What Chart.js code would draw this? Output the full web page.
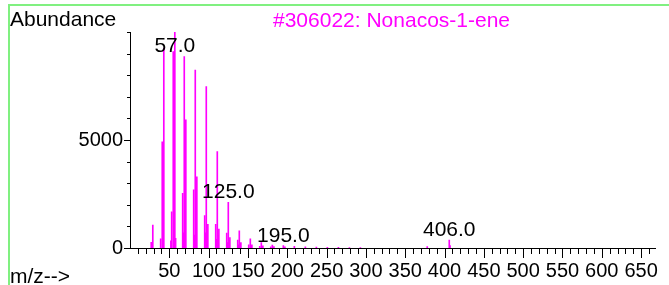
<!DOCTYPE html>
<html>
<head>
<meta charset="utf-8">
<script src="https://cdn.jsdelivr.net/npm/chart.js@4/dist/chart.umd.min.js"></script>
<style>
  html, body { margin: 0; padding: 0; background: #fff; }
  #wrap { position: relative; width: 669px; height: 285px; overflow: hidden; background: #fff; }
  canvas { position: absolute; left: 0; top: 0; }
  .frame { position: absolute; left: 8px; top: 4px; width: 680px; height: 300px;
           border-top: 2px solid #80f080; border-left: 2px solid #80f080; }
  .txt { position: absolute; font-family: 'Liberation Sans', Arial, sans-serif; font-size: 21px;
         line-height: 21px; white-space: nowrap; }
</style>
</head>
<body>
<div id="wrap">
  <canvas id="c" width="669" height="285"></canvas>
  <div class="frame"></div>
  <div class="txt" style="left:10px; top:8px; color:#000;">Abundance</div>
  <div class="txt" style="left:273px; top:9px; color:#ff00ff;">#306022: Nonacos-1-ene</div>
  <div class="txt" style="left:10px; top:265px; color:#000;">m/z--&gt;</div>
</div>
<script>
// m/z values (x) and abundances (y)
const mz = [27, 29, 39, 41, 42, 43, 52, 53, 55, 56, 57, 58,
            67, 68, 69, 70, 71, 81, 82, 83, 84, 85,
            95, 96, 97, 98, 99, 109, 110, 111, 112, 113,
            123, 124, 125, 126, 127, 137, 138, 139, 140, 141,
            151, 153, 154, 155, 165, 167, 168, 169, 179, 181, 183,
            195, 197, 209, 223, 237, 251, 265, 279, 293, 378, 406, 407];
const abundance = [260, 1060, 420, 4920, 1220, 9250, 330, 1680, 9090, 3930, 10000, 450,
            2530, 700, 8860, 1500, 5930, 2690, 600, 8240, 1200, 3300,
            1500, 700, 7470, 800, 1100, 1100, 400, 4460, 600, 880,
            690, 250, 2110, 350, 480, 370, 150, 790, 200, 250,
            150, 420, 100, 150, 80, 250, 60, 100, 50, 140, 60,
            110, 50, 80, 50, 40, 35, 30, 25, 20, 60, 370, 110];
// labelled peaks
const labelledPeaks = [57, 125, 195, 406];
// axis tick labels
const xTickLabels = [50, 100, 150, 200, 250, 300, 350, 400, 450, 500, 550, 600, 650];
const yTickLabels = [0, 5000];
const X_MAX = 668, Y_MAX = 10000;

const points = mz.map((m, i) => ({ x: m, y: abundance[i] }));

const FONT = "'Liberation Sans', Arial, sans-serif";
Chart.defaults.font.family = FONT;

const axisPlugin = {
  id: 'axisPlugin',
  afterDraw(chart) {
    const ctx = chart.ctx;
    const xs = chart.scales.x, ys = chart.scales.y;
    const area = chart.chartArea;
    const y0 = Math.round(ys.getPixelForValue(0));
    const x0 = Math.round(xs.getPixelForValue(0));
    ctx.save();
    ctx.fillStyle = '#000000';
    ctx.strokeStyle = '#000000';
    ctx.lineWidth = 1;
    // axis lines
    ctx.beginPath();
    ctx.moveTo(x0 - 2, y0 + 0.5);
    ctx.lineTo(area.right, y0 + 0.5);
    ctx.stroke();
    ctx.beginPath();
    ctx.moveTo(x0 + 0.5, area.top);
    ctx.lineTo(x0 + 0.5, y0 + 1);
    ctx.stroke();
    // x ticks (minor every 10, major every 50)
    for (let v = 10; v <= X_MAX; v += 10) {
      const px = Math.round(xs.getPixelForValue(v));
      const len = (v % 50 === 0) ? 10 : 6;
      ctx.fillRect(px, y0, 1, len);
    }
    // y ticks (minor every 1000, major every 5000)
    for (let v = 0; v <= Y_MAX; v += 1000) {
      const py = Math.round(ys.getPixelForValue(v));
      const len = (v % 5000 === 0 && v < Y_MAX) ? 6 : 3;
      ctx.fillRect(x0 - len, py, len, 1);
    }
    // peak labels
    ctx.font = '21px ' + FONT;
    ctx.textAlign = 'center';
    ctx.textBaseline = 'alphabetic';
    labelledPeaks.forEach(m => {
      const val = abundance[mz.indexOf(m)];
      const px = xs.getPixelForValue(m);
      const py = Math.max(ys.getPixelForValue(val) - 4, area.top + 20);
      ctx.fillText(m.toFixed(1), px, py);
    });
    ctx.restore();
  }
};

new Chart(document.getElementById('c'), {
  type: 'bar',
  data: {
    datasets: [{
      data: points,
      backgroundColor: '#ff00ff',
      borderWidth: 0,
      barThickness: 1
    }]
  },
  options: {
    responsive: false,
    animation: false,
    devicePixelRatio: 1,
    layout: { padding: { left: 0, right: 7, top: 32, bottom: 0 } },
    plugins: { legend: { display: false }, tooltip: { enabled: false }, title: { display: false } },
    scales: {
      x: {
        type: 'linear',
        min: 0, max: X_MAX,
        offset: false,
        grid: { display: false, drawTicks: false, offset: false },
        border: { display: true, color: '#000', width: 1 },
        afterBuildTicks: s => { s.ticks = xTickLabels.map(v => ({ value: v })); },
        ticks: {
          autoSkip: false, maxRotation: 0, minRotation: 0,
          padding: 11, color: '#000', font: { size: 20 },
          callback: v => String(v)
        },
        afterFit: s => { s.height = 37; }
      },
      y: {
        min: 0, max: Y_MAX,
        grid: { display: false, drawTicks: false },
        border: { display: true, color: '#000', width: 1 },
        afterBuildTicks: s => { s.ticks = yTickLabels.map(v => ({ value: v })); },
        ticks: {
          autoSkip: false, padding: 7, color: '#000', font: { size: 20 },
          callback: v => String(v)
        },
        afterFit: s => { s.width = 130; }
      }
    }
  },
  plugins: [axisPlugin]
});
</script>
</body>
</html>
